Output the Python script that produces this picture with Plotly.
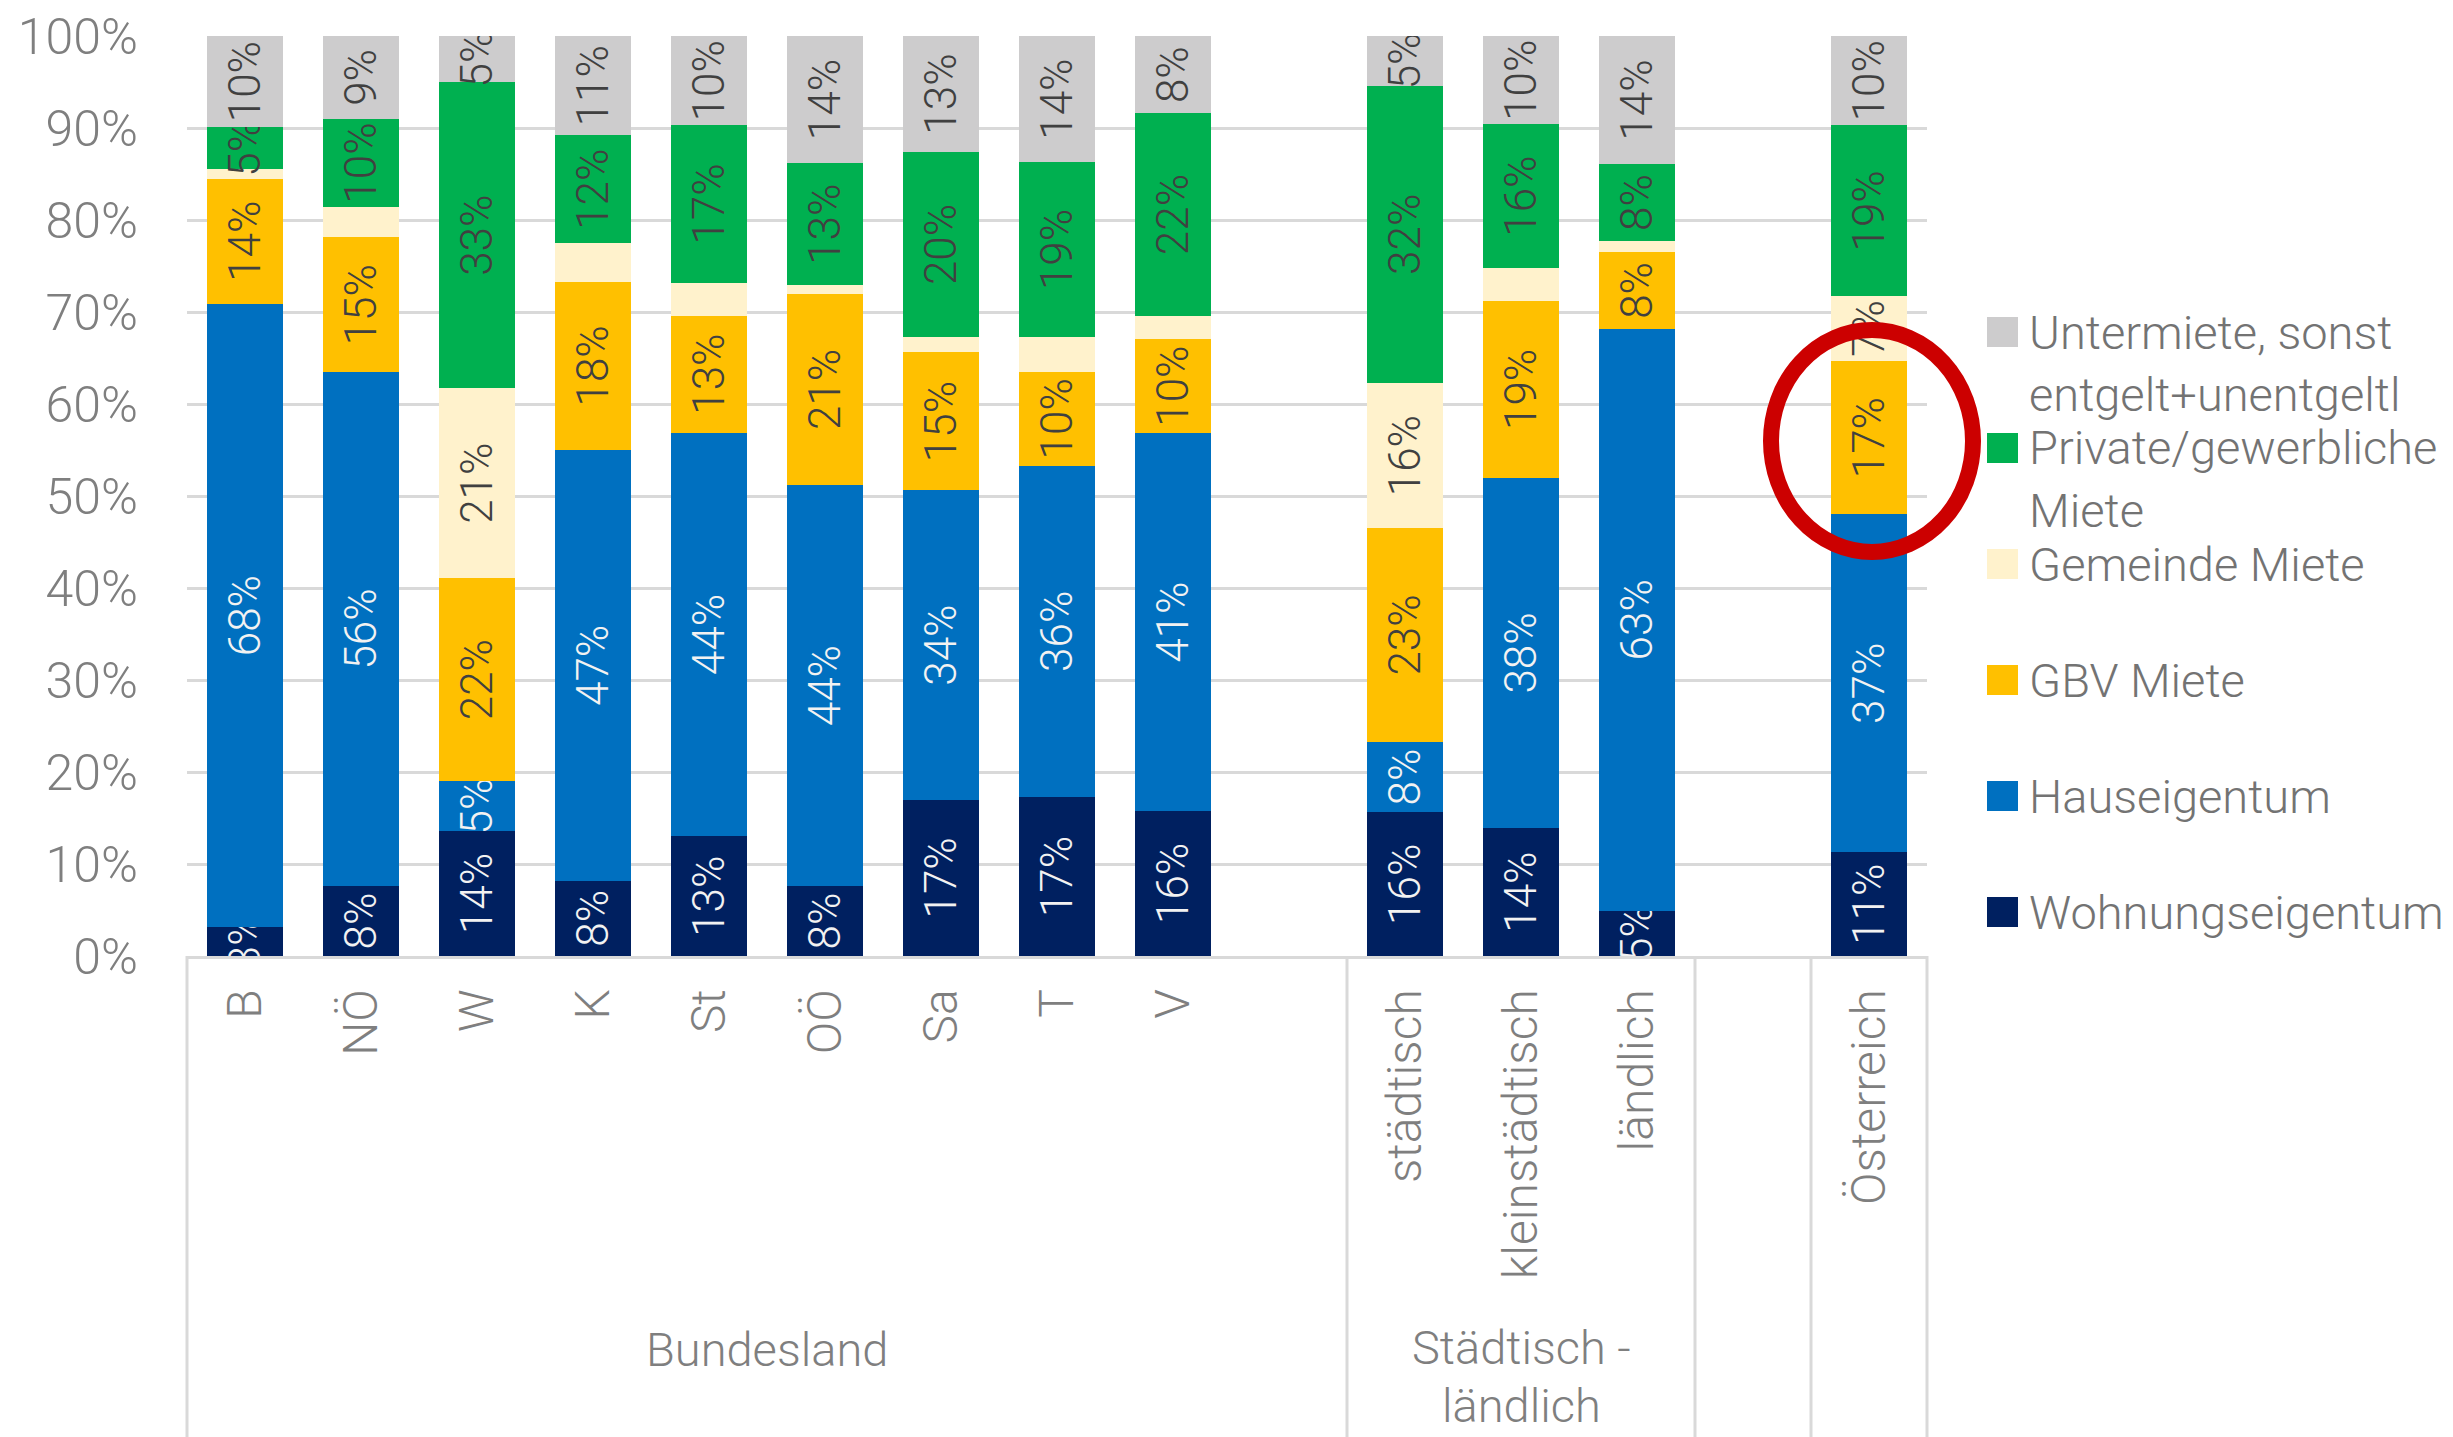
import plotly.graph_objects as go

# ---------------- data ----------------
categories = ["B", "NÖ", "W", "K", "St", "OÖ", "Sa", "T", "V",
              "städtisch", "kleinstädtisch", "ländlich", "Österreich"]

wohnungseigentum = [3.1, 7.6, 13.6, 8.2, 13.0, 7.6, 17.0, 17.3, 15.8, 15.6, 13.9, 4.9, 11.3]
hauseigentum     = [67.8, 55.9, 5.4, 46.8, 43.9, 43.6, 33.6, 36.0, 41.0, 7.7, 38.1, 63.3, 36.7]
gbv_miete        = [13.6, 14.6, 22.1, 18.3, 12.7, 20.8, 15.0, 10.2, 10.3, 23.2, 19.2, 8.3, 16.7]
gemeinde_miete   = [1.0, 3.3, 20.6, 4.2, 3.6, 0.9, 1.7, 3.8, 2.5, 15.8, 3.6, 1.2, 7.0]
private_miete    = [4.6, 9.6, 33.3, 11.7, 17.1, 13.3, 20.1, 19.0, 22.0, 32.3, 15.6, 8.4, 18.6]
untermiete       = [9.9, 9.0, 5.0, 10.8, 9.7, 13.8, 12.6, 13.7, 8.4, 5.4, 9.6, 13.9, 9.7]

series_names = ["Wohnungseigentum", "Hauseigentum", "GBV Miete", "Gemeinde Miete",
                "Private/gewerbliche Miete", "Untermiete, sonst entgelt+unentgeltl"]
legend_lines = [["Wohnungseigentum"], ["Hauseigentum"], ["GBV Miete"],
                ["Gemeinde Miete"], ["Private/gewerbliche", "Miete"],
                ["Untermiete, sonst", "entgelt+unentgeltl"]]
label_min = [0, 0, 0, 5, 0, 0]          # smallest share that gets a data label
group_lines = [["Bundesland"], ["Städtisch -", "ländlich"]]
group_sizes = [9, 3, 1]
y_ticks = [0, 10, 20, 30, 40, 50, 60, 70, 80, 90, 100]

# ---------------- styling ----------------
colors = ["#002060", "#0070C0", "#FFC000", "#FFF2CC", "#00B050", "#CDCCCD"]
text_colors = ["#F2F2F2", "#F2F2F2", "#404040", "#404040", "#404040", "#404040"]
FONT = "Roboto"
GRAY = "#7F7F7F"
GRID = "#D9D9D9"

W, H = 2453, 1437
L, R, T, B = 187, 526, 36, 481
plot_w = W - L - R
plot_h = H - T - B


def px_x(px):
    return (px - L) / plot_w


def px_y(py):
    return (H - B - py) / plot_h


# slot positions (one empty slot after each group except the last)
positions = []
slot = 0
for size in group_sizes:
    positions += list(range(slot, slot + size))
    slot += size + 1
n_slots = positions[-1] + 1
x_range = [-0.5, n_slots - 0.5]

series = [wohnungseigentum, hauseigentum, gbv_miete, gemeinde_miete, private_miete, untermiete]

fig = go.Figure()
for vals, name, col, tcol, mn in zip(series, series_names, colors, text_colors, label_min):
    txt = [f"{v:.0f}%" if v >= mn else "" for v in vals]
    fig.add_trace(go.Bar(
        x=positions, y=vals, name=name, showlegend=False,
        marker=dict(color=col, line=dict(width=0)),
        text=txt, textposition="inside", insidetextanchor="middle",
        textangle=-90, constraintext="none",
        textfont=dict(family=FONT, size=44, color=tcol, weight=300),
        hovertemplate="%{y:.1f}%<extra>" + name + "</extra>",
    ))

# group separators below the axis
sep_slots = [-0.5, 9.5, 12.5, 13.5, n_slots - 0.5]
shapes = []
for s in sep_slots:
    xp = (s - x_range[0]) / (x_range[1] - x_range[0])
    shapes.append(dict(type="line", xref="paper", yref="paper", x0=xp, x1=xp,
                       y0=0, y1=px_y(H), line=dict(color=GRID, width=3), layer="below"))

# red highlight circle around Österreich / GBV Miete
shapes.append(dict(type="circle", xref="paper", yref="paper",
                   x0=px_x(1771), x1=px_x(1973), y0=px_y(552), y1=px_y(330),
                   line=dict(color="#CC0000", width=16), layer="above"))

annotations = []
# group labels under the category labels
group_centers = [4.5, 11]
group_rows = [[1349], [1347, 1405]]
for lines, cx, rows in zip(group_lines, group_centers, group_rows):
    for line, cy in zip(lines, rows):
        annotations.append(dict(
            x=cx, y=px_y(cy), xref="x", yref="paper", text=line, showarrow=False,
            font=dict(family=FONT, size=47, color=GRAY, weight=300),
            xanchor="center", yanchor="middle"))

# legend (top entry = top of the stack)
legend_top = 332
legend_step = 116
for i, (lines, col) in enumerate(zip(legend_lines[::-1], colors[::-1])):
    cy = legend_top + legend_step * i
    shapes.append(dict(type="rect", xref="paper", yref="paper",
                       x0=px_x(1987), x1=px_x(2018), y0=px_y(cy + 15), y1=px_y(cy - 15),
                       fillcolor=col, line=dict(width=0)))
    for j, line in enumerate(lines):
        annotations.append(dict(
            x=px_x(2027), y=px_y(cy + 62 * j), xref="paper", yref="paper", text=line,
            showarrow=False, xanchor="left", yanchor="middle",
            font=dict(family=FONT, size=47, color="#737373", weight=300)))

fig.update_layout(
    template="none",
    width=W, height=H,
    barmode="stack", bargap=0.35,
    paper_bgcolor="white", plot_bgcolor="white",
    font=dict(family=FONT, color=GRAY, weight=300),
    margin=dict(l=L, r=R, t=T, b=B, autoexpand=False),
    showlegend=False,
    xaxis=dict(
        range=x_range, tickmode="array", tickvals=positions, ticktext=categories,
        tickangle=-90, tickfont=dict(family=FONT, size=48, color=GRAY, weight=300),
        showgrid=False, zeroline=False, showline=True, linecolor=GRID, linewidth=3,
        ticks="", ticklabelstandoff=11, automargin=False, fixedrange=True,
    ),
    yaxis=dict(
        range=[0, 100], tickmode="array", tickvals=y_ticks,
        ticktext=[f"{t}%" for t in y_ticks],
        tickfont=dict(family=FONT, size=50, color=GRAY, weight=300),
        showgrid=True, gridcolor=GRID, gridwidth=3, zeroline=False, showline=False,
        ticks="", ticklabelstandoff=48, automargin=False, fixedrange=True,
    ),
    shapes=shapes, annotations=annotations,
    uniformtext=dict(minsize=44, mode="show"),
)

fig.write_html("out.html", config={"displayModeBar": False},
               post_script="document.body.style.margin='0';document.body.style.overflow='hidden';")
